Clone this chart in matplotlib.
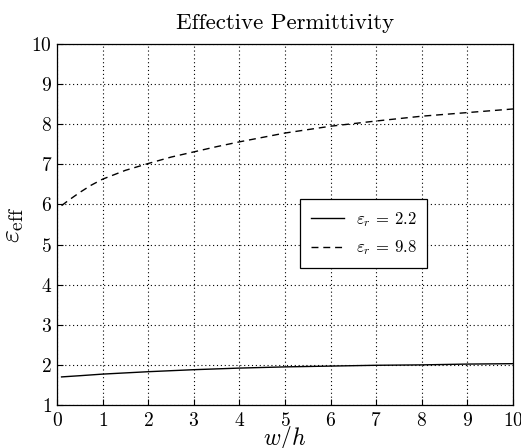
import matplotlib
matplotlib.use("Agg")
import matplotlib.pyplot as plt

plt.rcParams['font.family'] = 'serif'
plt.rcParams['font.serif'] = ['cmr10', 'DejaVu Serif']
plt.rcParams['mathtext.fontset'] = 'cm'
plt.rcParams['axes.formatter.use_mathtext'] = True

# data
x_98 = [0.1, 0.25, 0.5, 0.75, 1, 1.5, 2, 2.5, 3, 3.5, 4, 5, 6, 7, 8, 9, 10]
eps_98 = [5.97, 6.1, 6.3, 6.48, 6.63, 6.85, 7.02, 7.18, 7.31, 7.44, 7.56, 7.78, 7.95, 8.08, 8.2, 8.29, 8.38]
x_22 = [0.1, 0.5, 1, 2, 3, 4, 5, 6, 7, 8, 9, 10]
eps_22 = [1.70, 1.73, 1.77, 1.83, 1.88, 1.92, 1.95, 1.97, 1.99, 2.0, 2.02, 2.03]
xticks = list(range(0, 11))
yticks = list(range(1, 11))

fig = plt.figure(figsize=(5.21, 4.48), dpi=100)
ax = fig.add_axes([0.1094, 0.096, 0.8752, 0.8058])

ax.plot(x_22, eps_22, 'k-', lw=1.0, label=r'$\varepsilon_r$ = 2.2')
ax.plot(x_98, eps_98, 'k--', lw=1.0, dashes=(5, 3.5), label=r'$\varepsilon_r$ = 9.8')

ax.set_xlim(0, 10)
ax.set_ylim(1, 10)
ax.set_xticks(xticks)
ax.set_yticks(yticks)
ax.tick_params(direction='in', labelsize=14, length=4, width=0.8)
ax.tick_params(axis='x', pad=5)
ax.grid(True, color='k', linestyle=(0, (1, 2.5)), linewidth=0.8)
for s in ax.spines.values():
    s.set_linewidth(0.9)

ax.set_title('Effective Permittivity', fontsize=16.5, pad=11)
ax.set_xlabel(r'$w/h$', fontsize=17, labelpad=-4)
ax.set_ylabel(r'$\varepsilon_{\rm eff}$', fontsize=20, labelpad=4)

leg = ax.legend(loc='upper left', bbox_to_anchor=(0.533, 0.571), borderaxespad=0,
                fontsize=12, fancybox=False, edgecolor='k', framealpha=1,
                handlelength=2.0, handletextpad=0.7, borderpad=0.65, labelspacing=0.6)
leg.get_frame().set_linewidth(0.9)

fig.savefig('out.png', dpi=100)
